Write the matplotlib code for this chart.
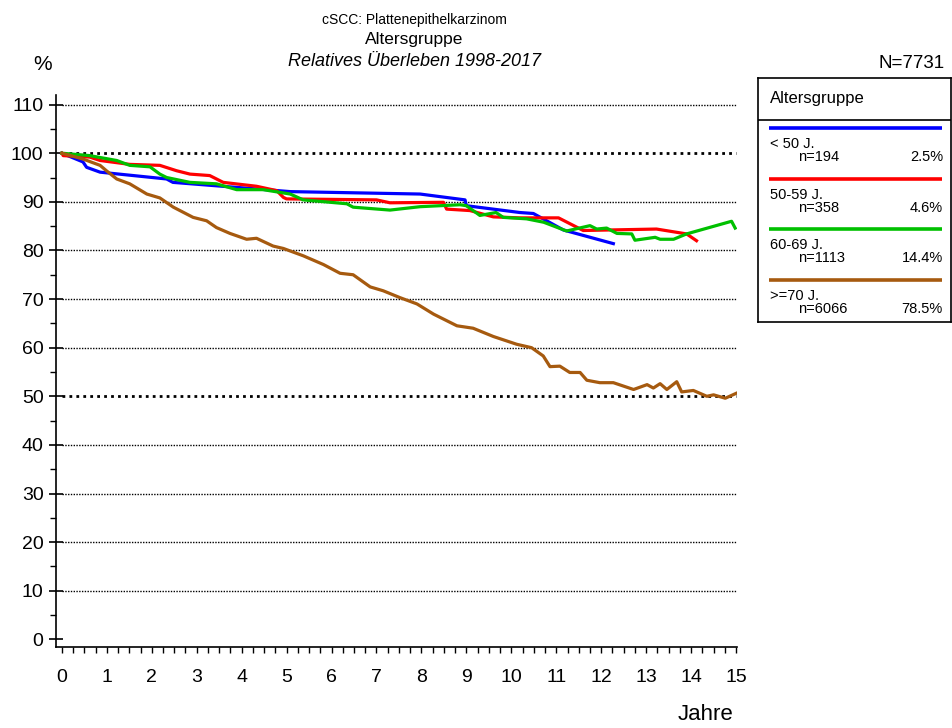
import matplotlib.pyplot as plt
from matplotlib.ticker import MultipleLocator

plt.rcParams['font.family'] = ['Liberation Sans', 'DejaVu Sans']

# relative survival (%) per age group
blue_t = [0, 0.47, 0.55, 0.85, 2.33, 2.47, 5.08, 7.97, 8.97, 9.0, 10.19, 10.49, 11.16, 12.27]
blue_v = [100, 98.2, 97.1, 96.1, 94.7, 94.0, 92.1, 91.6, 90.4, 89.2, 87.8, 87.6, 84.2, 81.4]

red_t = [0, 0.03, 0.62, 0.85, 1.51, 2.18, 2.55, 2.85, 3.29, 3.59, 4.33, 4.78, 4.93, 5.0,
         7.0, 7.3, 8.49, 8.56, 9.08, 9.6, 10.19, 11.05, 11.6, 13.23, 13.9, 14.12]
red_v = [100, 99.5, 99.2, 98.5, 97.7, 97.5, 96.4, 95.7, 95.4, 94.0, 93.2, 92.3, 90.9, 90.6,
         90.4, 89.8, 89.9, 88.5, 88.2, 86.9, 86.7, 86.7, 84.1, 84.4, 83.4, 82.0]

green_t = [0, 0.62, 1.22, 1.51, 1.96, 2.18, 2.33, 2.85, 3.44, 3.89, 4.48, 5.08, 5.37, 6.34,
           6.48, 7.3, 7.97, 8.86, 9.0, 9.3, 9.66, 9.82, 10.34, 10.72, 11.23, 11.75, 11.9,
           12.12, 12.35, 12.68, 12.75, 13.2, 13.31, 13.61, 13.9, 14.9, 14.98]
green_v = [100, 99.5, 98.5, 97.5, 97.2, 95.7, 95.0, 94.0, 93.7, 92.5, 92.5, 91.6, 90.4, 89.6,
           88.9, 88.3, 89.0, 89.4, 89.2, 87.2, 87.8, 86.8, 86.5, 85.8, 84.0, 85.1, 84.4,
           84.6, 83.5, 83.4, 82.1, 82.7, 82.3, 82.3, 83.4, 86.0, 84.6]

brown_t = [0, 0.47, 0.85, 0.99, 1.22, 1.51, 1.89, 2.18, 2.48, 2.92, 3.22, 3.44, 3.74, 4.11,
           4.33, 4.7, 4.93, 5.37, 5.82, 6.19, 6.48, 6.86, 7.15, 7.52, 7.9, 8.27, 8.79, 9.15,
           9.6, 10.12, 10.45, 10.71, 10.86, 11.08, 11.3, 11.53, 11.68, 11.97, 12.27, 12.72,
           13.02, 13.16, 13.31, 13.46, 13.68, 13.79, 14.05, 14.35, 14.5, 14.76, 15.0]
brown_v = [100, 98.8, 97.5, 96.4, 94.7, 93.7, 91.6, 90.8, 88.9, 86.8, 86.1, 84.7, 83.5, 82.3,
           82.5, 80.9, 80.4, 78.9, 77.1, 75.3, 75.0, 72.5, 71.7, 70.3, 69.0, 66.9, 64.5, 64.0,
           62.3, 60.7, 60.0, 58.3, 56.1, 56.2, 54.9, 54.9, 53.3, 52.8, 52.8, 51.4,
           52.4, 51.7, 52.6, 51.4, 53.0, 50.9, 51.2, 50.0, 50.3, 49.6, 50.6]

groups = ["< 50 J.", "50-59 J.", "60-69 J.", ">=70 J."]
n_cases = [194, 358, 1113, 6066]
pct = ["2.5%", "4.6%", "14.4%", "78.5%"]
colors = ["#0000ff", "#ff0000", "#00c000", "#a65a0f"]
series = [(blue_t, blue_v), (red_t, red_v), (green_t, green_v), (brown_t, brown_v)]

fig = plt.figure(figsize=(9.53, 7.28), dpi=100)
ax = fig.add_axes([0.0588, 0.1117, 0.7145, 0.758])
ax.set_xlim(-0.13, 15.02)
ax.set_ylim(-1.5, 112)

# dotted reference lines, 100 and 50 heavier
for y in range(10, 111, 10):
    heavy = y in (50, 100)
    ax.plot([0.0, 15.0], [y, y], color="black", linestyle=(0, (1, 1.5)) if heavy else (0, (1, 1)),
            lw=2.0 if heavy else 1.0, zorder=1)

for (t, v), c in zip(series, colors):
    ax.plot(t, v, color=c, lw=2.3, solid_joinstyle="round", zorder=3)

for s in ("top", "right"):
    ax.spines[s].set_visible(False)
ax.spines["left"].set_linewidth(1.2)
ax.spines["bottom"].set_linewidth(1.2)

ax.xaxis.set_minor_locator(MultipleLocator(0.25))
ax.yaxis.set_minor_locator(MultipleLocator(5))
ax.set_xticks(range(0, 16))
ax.set_yticks(range(0, 111, 10))
ax.tick_params(axis="x", which="both", direction="out", length=4, width=1, labelsize=14, pad=12)
ax.tick_params(axis="y", which="major", direction="inout", length=10, width=1.2, labelsize=14, pad=4)
ax.tick_params(axis="y", which="minor", direction="out", length=4, width=1)

fig.text(0.045, 0.912, "%", fontsize=15, ha="center", va="center")
fig.text(0.74, 0.018, "Jahre", fontsize=16, ha="center", va="center")
fig.text(0.435, 0.972, "cSCC: Plattenepithelkarzinom", fontsize=10, ha="center", va="center")
fig.text(0.435, 0.946, "Altersgruppe", fontsize=12.5, ha="center", va="center")
fig.text(0.435, 0.916, "Relatives Überleben 1998-2017", fontsize=13, style="italic",
         ha="center", va="center")
fig.text(0.957, 0.913, "N=7731", fontsize=13.5, ha="center", va="center")

# legend box, drawn in pixel units
lg = fig.add_axes([0.795, 0.558, 0.2028, 0.335])
lg.set_xlim(0, 193)
lg.set_ylim(244, 0)
lg.set_xticks([])
lg.set_yticks([])
for s in lg.spines.values():
    s.set_linewidth(1.2)
lg.axhline(42.5, color="black", lw=1.2)
lg.text(12, 21, "Altersgruppe", fontsize=12, va="center")
for i, (g, n, p, c) in enumerate(zip(groups, n_cases, pct, colors)):
    y0 = 50 + i * 50.7
    lg.plot([11, 184], [y0, y0], color=c, lw=2.6, solid_capstyle="butt")
    lg.text(12, y0 + 16, g, fontsize=10.5, va="center")
    lg.text(40, y0 + 29, f"n={n}", fontsize=10.5, va="center")
    lg.text(185, y0 + 29, p, fontsize=10.5, va="center", ha="right")

fig.savefig("out.png", dpi=100)
